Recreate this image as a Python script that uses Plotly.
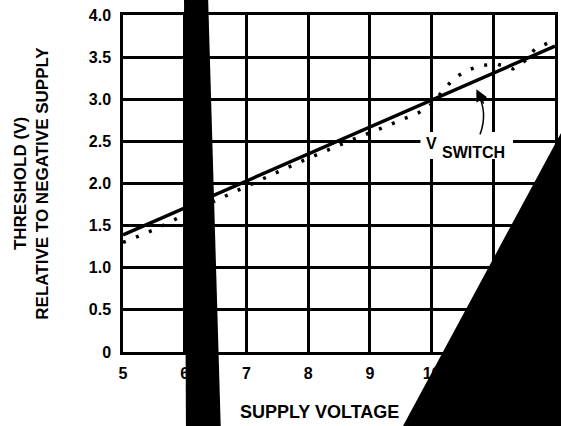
import plotly.graph_objects as go

# ---- data ----
x_solid = [5.0, 12.0]
y_solid = [1.39, 3.63]

x_dotted = [5.0, 5.5, 6.0, 6.67, 7.4, 7.85, 8.58, 9.3, 9.79, 10.0, 10.19, 10.35,
            10.56, 10.8, 11.05, 11.32, 11.52, 11.68, 11.92]
y_dotted = [1.30, 1.45, 1.63, 1.86, 2.10, 2.25, 2.48, 2.69, 2.84, 2.94, 3.10, 3.24,
            3.34, 3.40, 3.42, 3.36, 3.46, 3.60, 3.68]

x_ticks = [5, 6, 7, 8, 9, 10, 11]
x_labels = ["5", "6", "7", "8", "9", "10", "11"]
y_ticks = [0, 0.5, 1.0, 1.5, 2.0, 2.5, 3.0, 3.5, 4.0]
y_labels = ["0", "0.5", "1.0", "1.5", "2.0", "2.5", "3.0", "3.5", "4.0"]

FONT = "Liberation Sans, Arial, Helvetica, sans-serif"

fig = go.Figure()
fig.add_trace(go.Scatter(x=x_dotted, y=y_dotted, mode="lines",
                         line=dict(color="black", width=3.5, dash="3px,11px"),
                         showlegend=False, hoverinfo="skip"))
fig.add_trace(go.Scatter(x=x_solid, y=y_solid, mode="lines",
                         line=dict(color="black", width=3.5),
                         showlegend=False, hoverinfo="skip"))

fig.update_layout(
    width=561, height=426,
    margin=dict(l=123, r=6, t=15, b=74),
    paper_bgcolor="white", plot_bgcolor="white",
    font=dict(family=FONT, color="black", size=16, weight="bold"),
    xaxis=dict(range=[5, 12], tickvals=x_ticks, ticktext=x_labels,
               showgrid=True, gridcolor="black", gridwidth=2.5,
               showline=True, linecolor="black", linewidth=2.5, mirror=True,
               ticks="", ticklabelstandoff=5, zeroline=False,
               ticklabeloverflow="allow",
               tickfont=dict(size=16, family=FONT, weight="bold"),
               automargin=False, fixedrange=True),
    yaxis=dict(range=[0, 4], tickvals=y_ticks, ticktext=y_labels,
               showgrid=True, gridcolor="black", gridwidth=2.5,
               showline=True, linecolor="black", linewidth=2.5, mirror=True,
               ticks="", ticklabelstandoff=6, zeroline=False,
               ticklabeloverflow="allow",
               tickfont=dict(size=16, family=FONT, weight="bold"),
               title=dict(text="THRESHOLD (V)<br>RELATIVE TO NEGATIVE SUPPLY",
                          font=dict(size=17, family=FONT, weight="bold"),
                          standoff=36),
               automargin=False, fixedrange=True),
)

# white box behind the V_SWITCH label, curved arrow
fig.add_shape(type="rect", xref="x", yref="y", x0=9.82, x1=11.32, y0=2.29, y1=2.61,
              fillcolor="white", line=dict(width=0), layer="above")
fig.add_shape(type="path", xref="x", yref="y",
              path="M 10.785,2.583 Q 10.92,2.85 10.74,3.08",
              line=dict(color="black", width=1.5), layer="above")

# x axis title (left part visible, rest hidden by the black wedge)
fig.add_annotation(text="SUPPLY VOLTAGE", xref="paper", yref="paper",
                   x=0.266, y=-0.177, xanchor="left", yanchor="middle",
                   showarrow=False, font=dict(size=18, family=FONT, weight="bold"))

# V_SWITCH label
fig.add_annotation(text="V", xref="x", yref="y", x=10.5, y=2.5,
                   xshift=-31, yshift=-2, showarrow=False,
                   font=dict(size=16, family=FONT, weight="bold"))
fig.add_annotation(text="SWITCH", xref="x", yref="y", x=10.5, y=2.5,
                   xshift=11, yshift=-11, showarrow=False,
                   font=dict(size=16, family=FONT, weight="bold"))
# arrowhead
fig.add_annotation(text="", xref="x", yref="y", x=10.726, y=3.12,
                   ax=8, ay=16, showarrow=True, arrowhead=2, arrowsize=1.6,
                   arrowwidth=1.5, arrowcolor="black")

# black occluding blots from the scanned source
fig.add_shape(type="path", xref="paper", yref="paper",
              path="M 0.1412,1.06 L 0.1968,1.06 L 0.2269,-0.25 L 0.1458,-0.25 Z",
              fillcolor="black", line=dict(width=0), layer="above")
fig.add_shape(type="path", xref="paper", yref="paper",
              path="M 1.03,0.688 L 1.03,-0.25 L 0.6353,-0.25 Z",
              fillcolor="black", line=dict(width=0), layer="above")

fig.write_html("out.html",
               config={"displayModeBar": False},
               post_script="document.body.style.margin='0';"
                           "document.body.style.overflow='hidden';")
